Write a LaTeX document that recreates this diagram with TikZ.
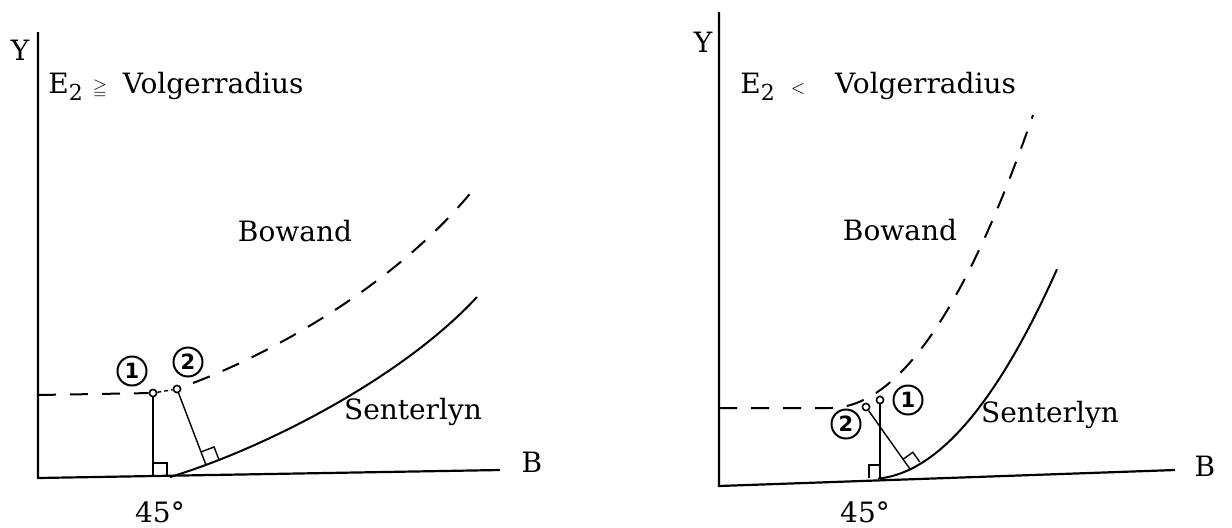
\documentclass[tikz,border=0pt]{standalone}
\usepackage{amssymb}
\usepackage{fontspec}
\setmainfont{DejaVu Serif}
\setsansfont{DejaVu Sans}
\usetikzlibrary{calc}
\begin{document}
\begin{tikzpicture}[x=0.5pt,y=-0.5pt,
  axis/.style={line width=1.1pt},
  solidcurve/.style={line width=1pt},
  dashcurve/.style={line width=1pt, dash pattern=on 9pt off 7pt},
  thinline/.style={line width=0.7pt},
  linkline/.style={line width=0.7pt, dash pattern=on 2pt off 1.5pt},
  lbl/.style={font=\fontsize{14}{16}\selectfont, inner sep=0pt},
  num/.style={circle, draw, line width=1pt, minimum size=14.5pt, inner sep=0pt, font=\sffamily\bfseries\fontsize{10.5}{11}\selectfont},
  dot/.style={circle, draw, fill=white, line width=0.8pt, minimum size=3.6pt, inner sep=0pt}
]
\useasboundingbox (0,0) rectangle (1232,527);

% ---------------- left panel ----------------
\coordinate (LO) at (38,478);
\coordinate (LYt) at (38,32);
\coordinate (LXe) at (500,470);
\draw[axis] (LYt) -- (LO) -- (LXe);
\node[lbl] (LY) at (20,50) {Y};
\node[lbl,anchor=west] (LE) at (48,86) {E\raisebox{-0.5ex}{\fontsize{11}{12}\selectfont 2}\hspace{5pt}{\fontsize{9}{10}\selectfont$\geqq$}\hspace{8pt}Volgerradius};
\node[lbl] (LB) at (532,462) {B};
\node[lbl] (L45) at (160,512) {45°};
\node[lbl] (LBow) at (295,231) {Bowand};
\node[lbl] (LSen) at (413,412) {Senterlyn};

\coordinate (LD0) at (38,395);
\node[dot] (LP1) at (153,393) {};
\node[dot] (LP2) at (177,389) {};
\draw[dashcurve] (LD0) -- (LP1);
\draw[linkline] (LP1) -- (LP2);
\coordinate (LDs) at (193,383);
\coordinate (LDe) at (473,190);
\draw[dashcurve] (LDs) .. controls (280,350) and (400,280) .. (LDe);
\coordinate (LSs) at (170,477);
\coordinate (LSe) at (477,297);
\draw[solidcurve] (LSs) .. controls (260,450) and (400,380) .. (LSe);

% vertical from point 1
\coordinate (LF1) at (153,477);
\draw[thinline] (LP1) -- (LF1);
\draw[thinline] ($(LF1)+(0,-14)$) -- ($(LF1)+(14,-14)$) -- ($(LF1)+(14,0)$);
% perpendicular from point 2
\coordinate (LF2) at (206,465);
\draw[thinline] (LP2) -- (LF2);
\coordinate (LQa) at ($(LF2)!7pt!(LP2)$);
\coordinate (LQb) at ($(LF2)!7pt!-90:(LP2)$);
\draw[thinline] (LQa) -- ($(LQa)+(LQb)-(LF2)$) -- (LQb);

\node[num] (LN1) at (132,371) {1};
\node[num] (LN2) at (188,362) {2};

% ---------------- right panel ----------------
\coordinate (RO) at (719,486);
\coordinate (RYt) at (719,12);
\coordinate (RXe) at (1175,470);
\draw[axis] (RYt) -- (RO) -- (RXe);
\node[lbl] (RY) at (703,42) {Y};
\node[lbl,anchor=west] (RE) at (740,86) {E\raisebox{-0.5ex}{\fontsize{11}{12}\selectfont 2}\hspace{8pt}{\fontsize{9}{10}\selectfont$<$}\hspace{15pt}Volgerradius};
\node[lbl] (RB) at (1205,466) {B};
\node[lbl] (R45) at (865,512) {45°};
\node[lbl] (RBow) at (900,230) {Bowand};
\node[lbl] (RSen) at (1050,415) {Senterlyn};

\coordinate (RD0) at (719,408);
\coordinate (RD1) at (830,408);
\draw[dashcurve] (RD0) -- (RD1) -- plot[domain=830:1033, samples=40] (\x, {408-71.1*((\x-830)/100)^2});
\draw[solidcurve] plot[domain=878:1057, samples=40] (\x, {479-60*((\x-870)/100)^2});

\node[dot] (RP1) at (880,400) {};
\node[dot] (RP2) at (866,407) {};
\coordinate (RF1) at (880,478);
\draw[thinline] (RP1) -- (RF1);
\draw[thinline] ($(RF1)+(-11,0)$) -- ($(RF1)+(-11,-13)$) -- ($(RF1)+(0,-13)$);
\coordinate (RF2) at (910,469);
\draw[thinline] (RP2) -- (RF2);
\coordinate (RQa) at ($(RF2)!6pt!(RP2)$);
\coordinate (RQb) at ($(RF2)!6pt!-90:(RP2)$);
\draw[thinline] (RQa) -- ($(RQa)+(RQb)-(RF2)$) -- (RQb);

\node[num] (RN1) at (908,400) {1};
\node[num] (RN2) at (846,424) {2};
\end{tikzpicture}
\end{document}
